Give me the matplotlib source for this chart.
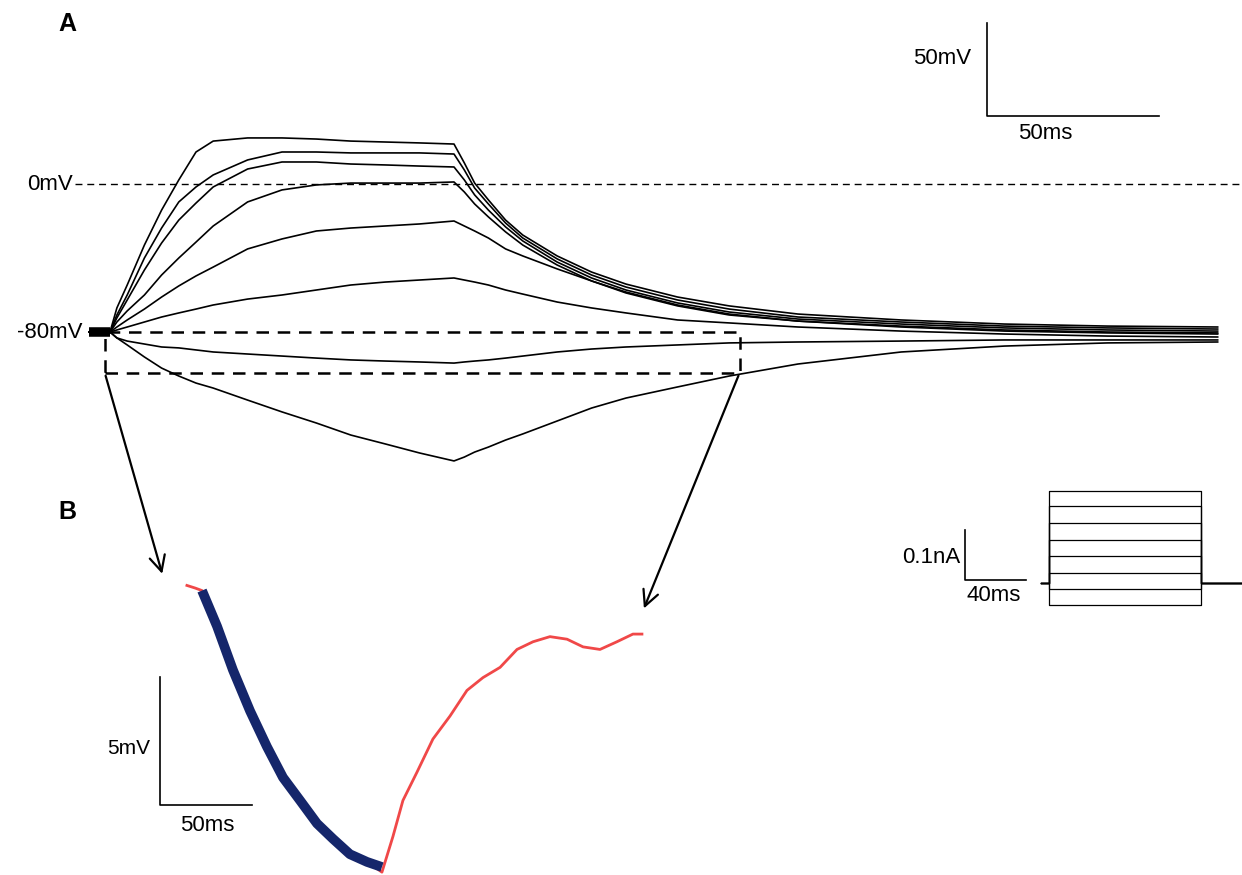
import matplotlib.pyplot as plt
from matplotlib.patches import Rectangle

plt.rcParams['font.family'] = ['Liberation Sans', 'DejaVu Sans']

# ---- panel A: membrane potential responses (ms, mV) ----
t_ms = [-6, 0, 2, 5, 10, 15, 20, 25, 30, 40, 50, 60, 70, 80, 90, 100,
        103, 106, 110, 115, 120, 130, 140, 150, 165, 180, 200, 230, 260, 290, 322]

v_trace1 = [-80, -80, -67, -54.6, -33, -14.1, 2.2, 17.3, 23.2, 24.9, 24.9, 24.3, 23.2, 22.7, 22.2, 21.6,
            11.4, 0.5, -8.6, -19.5, -27.6, -38.9, -47.6, -54.1, -61.1, -65.9, -70.3, -73.5, -75.7, -76.8, -77.3]
v_trace2 = [-80, -80, -70.8, -60, -40, -23.8, -9.7, -1.6, 4.9, 13, 17.3, 17.3, 16.8, 16.8, 16.8, 16.2,
            7.6, -2.2, -10.8, -21.1, -29.2, -40.5, -49.2, -55.7, -62.7, -67.6, -71.9, -74.6, -76.8, -77.8, -78.4]
v_trace3 = [-80, -80, -72.4, -62.7, -46.5, -31.9, -19.5, -10.3, -1.6, 8.1, 11.9, 11.9, 10.8, 10.3, 9.7, 9.2,
            2.2, -5.9, -14.1, -23.2, -30.8, -42.2, -50.8, -57.3, -64.3, -69.2, -73, -75.7, -77.8, -78.9, -79.5]
v_trace4 = [-80, -80, -74.6, -68.6, -60, -49.2, -40, -31.4, -22.7, -9.7, -3.2, -0.5, 0.5, 0.5, 0.5, 1.1,
            -4.3, -10.8, -17.8, -25.9, -33, -43.8, -52.4, -58.9, -65.9, -70.8, -74.1, -76.8, -78.9, -80, -80.5]
v_trace5 = [-80, -80, -77.3, -73.5, -67.6, -61.1, -55.1, -49.7, -44.9, -35.1, -29.7, -25.4, -23.8, -22.7, -21.6, -20,
            -22.7, -25.4, -29.2, -35.1, -38.9, -45.9, -52.4, -58.4, -65.4, -70.3, -74.1, -77.3, -79.5, -80.5, -81.1]
v_trace6 = [-80, -80, -78.9, -77.3, -74.6, -71.9, -69.7, -67.6, -65.4, -62.2, -60, -57.3, -54.6, -53, -51.9, -50.8,
            -51.9, -53, -54.6, -57.3, -59.5, -63.8, -67, -69.7, -73.5, -75.1, -77.3, -79.5, -81.1, -82.2, -82.7]
v_trace7 = [-80, -80, -83.2, -84.9, -86.5, -88.1, -88.6, -89.7, -90.8, -91.9, -93, -94.1, -95.1, -95.7, -96.2, -96.8,
            -96.2, -95.7, -95.1, -94.1, -93, -90.8, -89.2, -88.1, -87, -85.9, -85.4, -84.9, -84.3, -84.3, -84.3]
v_trace8 = [-80, -80, -83.2, -87, -93.5, -99.5, -103.8, -107.6, -110.3, -116.8, -123.2, -129.2, -135.7, -140.5, -145.4, -149.7,
            -147.6, -144.9, -142.2, -138.4, -135.1, -128.1, -121.1, -115.7, -109.7, -103.8, -97.3, -90.8, -87.6, -85.9, -85.4]
traces = [v_trace1, v_trace2, v_trace3, v_trace4, v_trace5, v_trace6, v_trace7, v_trace8]

rest_mv = -80
zoom_box = (-1.5, 183, -102.2, -80)   # t0, t1, v0, v1 of region shown in B

# ---- panel B: zoomed hyperpolarising trace and exponential fit ----
b_t = [-8.2, -3.8, 0, 8.2, 16.8, 26.1, 35.3, 44.0, 53.3, 62.5, 71.2, 80.4, 89.7, 97.8,
       103.8, 109.2, 116.8, 125.5, 134.8, 144.0, 152.7, 162.0, 171.2, 179.9, 189.1, 198.4,
       207.1, 216.3, 225.5, 234.2, 239.1]
b_v = [-79.9, -80.0, -80.1, -81.5, -83.2, -84.8, -86.2, -87.4, -88.3, -89.2, -89.8, -90.4, -90.7, -91.1,
       -89.7, -88.3, -87.2, -85.9, -85.0, -84.0, -83.5, -83.1, -82.4, -82.1, -81.9, -82.0,
       -82.3, -82.4, -82.1, -81.8, -81.8]
fit_t = [0, 8.2, 16.8, 26.1, 35.3, 44.0, 53.3, 62.5, 71.2, 80.4, 89.7, 97.8]
fit_v = [-80.1, -81.5, -83.2, -84.8, -86.2, -87.4, -88.3, -89.2, -89.8, -90.4, -90.7, -90.9]

# ---- inset: injected current steps (nA) ----
step_currents = [-0.044, -0.012, 0.02, 0.054, 0.086, 0.12, 0.154, 0.184]
step_dur = 100
W, H = 1242, 875
FS = 16


def overlay(fig, x0_px, px_per_x, y0_px, px_per_y, y0):
    # full-figure axes whose data coords land on the given pixel mapping
    ax = fig.add_axes([0, 0, 1, 1])
    ax.set_xlim(-x0_px / px_per_x, (W - x0_px) / px_per_x)
    ax.set_ylim(y0 - (H - y0_px) / px_per_y, y0 + y0_px / px_per_y)
    ax.axis('off')
    return ax


fig = plt.figure(figsize=(W / 100, H / 100), dpi=100)
axA = overlay(fig, 110, 3.44, 184, 1.85, 0)
axB = overlay(fig, 202, 1.84, 588, 25.6, rest_mv)
axI = overlay(fig, 1049, 1.52, 583, 500, 0)

# panel A traces
for v in traces:
    axA.plot(t_ms, v, color='black', lw=1.2)
    axA.plot(t_ms[:2], v[:2], color='black', lw=6, solid_capstyle='butt')

axA.axhline(0, xmin=75 / W, xmax=1, color='black', lw=1, ls=(0, (5, 3.5)))
axA.text(-10.8, 0, '0mV', ha='right', va='center', fontsize=FS)
axA.text(-8.1, rest_mv, '-80mV', ha='right', va='center', fontsize=FS)

t0, t1, v0, v1 = zoom_box
axA.add_patch(Rectangle((t0, v0), t1 - t0, v1 - v0, fill=False, ec='black',
                        lw=1.8, ls=(0, (5, 3.5))))

# scale bars A
sb_t, sb_v = 255, 37
axA.plot([sb_t, sb_t, sb_t + 50], [sb_v + 50, sb_v, sb_v], color='black', lw=1.2)
axA.text(sb_t - 4.6, sb_v + 31, '50mV', ha='right', va='center', fontsize=FS)
axA.text(sb_t + 9, sb_v - 4, '50ms', ha='left', va='top', fontsize=FS)

# panel B
axB.plot(b_t, b_v, color='#f04848', lw=2)
axB.plot(fit_t, fit_v, color='#15266b', lw=7, solid_capstyle='butt')
bs_t, bs_v = -22.8, -88.48
axB.plot([bs_t, bs_t, bs_t + 50], [bs_v + 5, bs_v, bs_v], color='black', lw=1.2)
axB.text(bs_t - 5.5, bs_v + 2.2, '5mV', ha='right', va='center', fontsize=FS - 1)
axB.text(bs_t + 10.8, bs_v - 0.4, '50ms', ha='left', va='top', fontsize=FS)

# arrows from the dashed box to panel B
arrow = dict(arrowstyle='->', color='black', lw=1.6, mutation_scale=28)
axB.annotate('', xy=(b_t[0] - 13, b_v[0] + 0.35), xytext=(t0, v0),
             textcoords=axA.transData, arrowprops=arrow)
axB.annotate('', xy=(b_t[-1] + 0.5, b_v[-1] + 0.9), xytext=(t1, v0),
             textcoords=axA.transData, arrowprops=arrow)

# current step inset
for amp in step_currents:
    axI.plot([-5, 0, 0, step_dur, step_dur, 140], [0, 0, amp, amp, 0, 0], color='black', lw=0.9)
is_t, is_i = -55.3, 0.006
axI.plot([is_t, is_t, is_t + 40], [is_i + 0.1, is_i, is_i], color='black', lw=1.2)
axI.text(is_t - 3.3, is_i + 0.045, '0.1nA', ha='right', va='center', fontsize=FS)
axI.text(is_t + 1.3, is_i - 0.01, '40ms', ha='left', va='top', fontsize=FS)

fig.text(58 / W, 1 - 12 / H, 'A', ha='left', va='top', fontsize=18, fontweight='bold')
fig.text(58 / W, 1 - 500 / H, 'B', ha='left', va='top', fontsize=18, fontweight='bold')

fig.savefig('out.png', dpi=100)
